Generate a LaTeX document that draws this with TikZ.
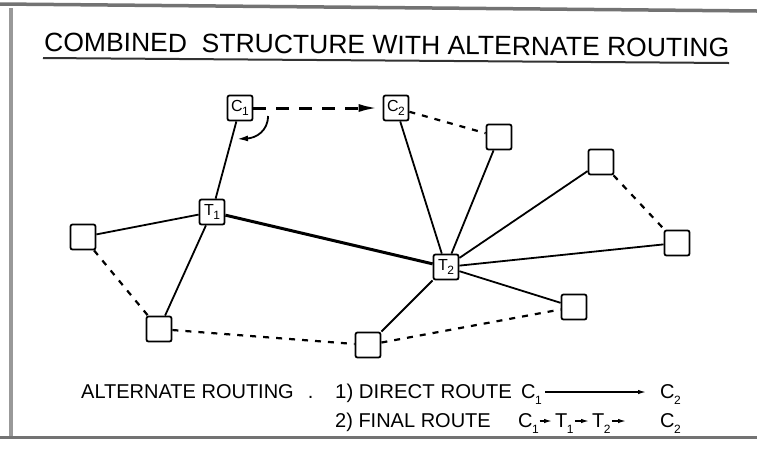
\documentclass[tikz,border=0pt]{standalone}
\usepackage{fontspec}
\setmainfont{Liberation Sans}
\usetikzlibrary{arrows.meta}
\newcommand\idx[1]{\kern-0.5pt\raisebox{-0.3em}{\fontsize{12}{12}\selectfont #1}}
\begin{document}
\begin{tikzpicture}[x=1pt,y=-1pt,
  station/.style={draw, line width=1.8pt, rounded corners=2pt, minimum size=25pt,
    inner sep=0pt, font=\fontsize{16}{16}\selectfont},
  link/.style={line width=1.8pt},
  trunk/.style={line width=3pt},
  spare/.style={line width=2.2pt, dash pattern=on 6pt off 7pt},
  hop/.style={line width=3pt, dash pattern=on 13pt off 10pt,
    -{Latex[length=20pt,width=8pt]}, shorten >=4pt},
  turn/.style={line width=1.8pt, -{Latex[length=11pt,width=6pt]}},
  legend/.style={anchor=base west, inner sep=0pt, font=\fontsize{20}{20}\selectfont},
  route/.style={line width=1.3pt, -{Latex[length=8pt,width=4.5pt]}},
  frame/.style={draw=black!55, line width=3.5pt}
]
\useasboundingbox (0,0) rectangle (757,451);

% sheet border
\draw[frame] (0,4) -- (757,11);
\draw[frame, draw=black!40] (11,8) -- (11,437);
\draw[frame, line width=3pt] (0,437) -- (757,437);

% heading
\node[anchor=base west, inner sep=0pt, font=\fontsize{26.5}{26.5}\selectfont, rotate=-0.5]
  (head) at (44,51) {COMBINED\ \ STRUCTURE WITH ALTERNATE ROUTING};
\draw[line width=2pt, black!80] (43,58) -- (729,63);

% exchanges
\node[station] (C1) at (240,108) {C\idx{1}};
\node[station] (C2) at (396,108) {C\idx{2}};
\node[station] (T1) at (212,212) {T\idx{1}};
\node[station] (T2) at (446,267) {T\idx{2}};
\node[station] (N1) at (499,137) {};
\node[station] (N2) at (601,162) {};
\node[station] (N3) at (677,243) {};
\node[station] (N4) at (574,307) {};
\node[station] (L)  at (83,237) {};
\node[station] (B1) at (159,329) {};
\node[station] (B2) at (368,345) {};

% final-route links
\draw[link]  (C1) -- (T1);
\draw[trunk] (T1) -- (T2);
\draw[link]  (T1) -- (L);
\draw[link]  (T1) -- (B1);
\draw[link]  (C2) -- (T2);
\draw[link]  (N1) -- (T2);
\draw[link]  (N2) -- (T2);
\draw[link]  (N3) -- (T2);
\draw[link]  (N4) -- (T2);
\draw[link]  (B2) -- (T2);

% direct (alternate) links
\draw[spare] (L)  -- (B1);
\draw[spare] (B1) -- (B2);
\draw[spare] (B2) -- (N4);
\draw[spare] (N2) -- (N3);
\draw[spare] (C2) -- (N1);

% direct route attempt and overflow turn-back
\draw[hop] (C1) -- (C2);
\coordinate (turnA) at (268,116);
\coordinate (turnB) at (237,139);
\draw[turn] (turnA) .. controls (268,131) and (256,138) .. (turnB);

% legend
\node[legend] (lgA) at (81,398) {ALTERNATE ROUTING\hspace{14pt}.};
\node[legend] (lg1) at (335,398) {\scalebox{1.02}[1]{1) DIRECT ROUTE}};
\node[legend] (d1)  at (521,398) {C\idx{1}};
\node[legend] (d2)  at (660,398) {C\idx{2}};
\coordinate (d1e) at ([xshift=3pt,yshift=6pt]d1.base east);
\draw[route, shorten >=14pt] (d1e) -- (d1e -| d2.west);
\node[legend] (lg2) at (335,427) {2) FINAL ROUTE};
\node[legend] (f1) at (518,427) {C\idx{1}};
\node[legend] (f2) at (555,427) {T\idx{1}};
\node[legend] (f3) at (592,427) {T\idx{2}};
\node[legend] (f4) at (660,427) {C\idx{2}};
\coordinate (f1e) at ([xshift=0.5pt,yshift=6pt]f1.base east);
\draw[route, shorten >=3pt] (f1e) -- (f1e -| f2.west);
\coordinate (f2e) at ([xshift=1pt,yshift=6pt]f2.base east);
\draw[route, shorten >=3pt] (f2e) -- (f2e -| f3.west);
\coordinate (f3e) at ([xshift=1pt,yshift=6pt]f3.base east);
\draw[route, shorten >=34pt] (f3e) -- (f3e -| f4.west);
\end{tikzpicture}
\end{document}
